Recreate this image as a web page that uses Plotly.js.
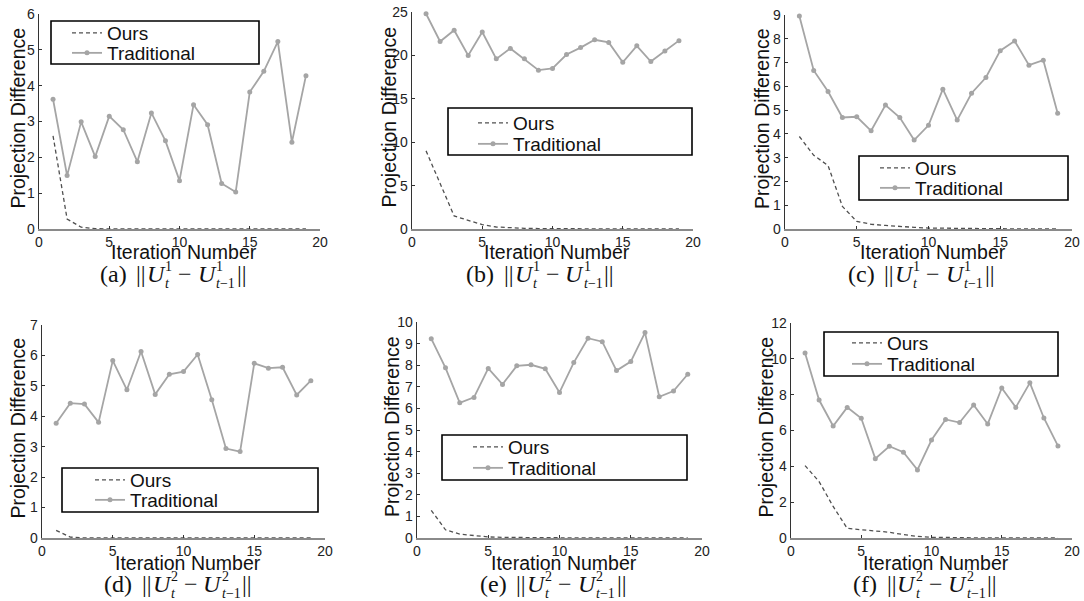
<!DOCTYPE html>
<html>
<head>
<meta charset="utf-8">
<script src="https://cdn.plot.ly/plotly-3.0.1.min.js"></script>
<style>html,body{margin:0;padding:0;background:#fff;}#chart{width:1084px;height:601px;}</style>
</head>
<body>
<div id="chart"></div>
<script>
// ---------------- data ----------------
const iterations = [1,2,3,4,5,6,7,8,9,10,11,12,13,14,15,16,17,18,19];
const seriesNames = ['Ours', 'Traditional'];
const panelLetters = ['a','b','c','d','e','f'];
const panelSup = ['1','1','1','2','2','2'];

const oursA = [2.6,0.28,0.05,0.01,0,0,0,0,0,0,0,0,0,0,0,0,0,0,0];
const tradA = [3.62,1.49,2.99,2.02,3.15,2.77,1.88,3.24,2.46,1.35,3.47,2.91,1.27,1.03,3.82,4.40,5.23,2.42,4.28];
const oursB = [9.0,5.2,1.5,1.0,0.5,0.23,0.12,0.08,0.05,0.03,0.02,0.01,0.01,0,0,0,0,0,0];
const tradB = [24.8,21.6,22.9,20.0,22.7,19.6,20.8,19.6,18.3,18.5,20.1,20.9,21.8,21.5,19.2,21.1,19.3,20.5,21.7];
const oursC = [3.89,3.1,2.67,0.95,0.32,0.2,0.15,0.1,0.07,0.04,0.03,0.02,0.01,0.01,0,0,0,0,0];
const tradC = [8.96,6.67,5.78,4.69,4.72,4.13,5.21,4.69,3.74,4.36,5.88,4.58,5.71,6.37,7.50,7.91,6.89,7.10,4.87];
const oursD = [0.25,0.03,0,0,0,0,0,0,0,0,0,0,0,0,0,0,0,0,0];
const tradD = [3.77,4.43,4.40,3.80,5.83,4.87,6.13,4.72,5.38,5.47,6.03,4.54,2.94,2.84,5.74,5.58,5.61,4.70,5.17];
const oursE = [1.28,0.38,0.18,0.1,0.05,0.03,0.02,0.01,0,0,0,0,0,0,0,0,0,0,0];
const tradE = [9.23,7.88,6.26,6.51,7.85,7.11,7.97,8.02,7.83,6.74,8.12,9.25,9.09,7.75,8.17,9.51,6.54,6.80,7.58];
const oursF = [4.04,3.15,1.76,0.54,0.46,0.41,0.32,0.19,0.09,0.04,0.02,0.01,0,0,0,0,0,0,0];
const tradF = [10.33,7.70,6.25,7.29,6.68,4.43,5.12,4.79,3.80,5.47,6.62,6.44,7.42,6.36,8.37,7.29,8.66,6.70,5.14];

const oursAll = [oursA, oursB, oursC, oursD, oursE, oursF];
const tradAll = [tradA, tradB, tradC, tradD, tradE, tradF];
const yMax = [6, 25, 9, 7, 10, 12];
const yDtick = [1, 5, 1, 1, 1, 2];
const xTicks = [0, 5, 10, 15, 20];

// ---------------- layout geometry (pixels) ----------------
const W = 1084, H = 601;
// plot area [left, right, top, bottom]
const plotBox = [
  [39, 320, 14, 229], [412, 693, 12, 229], [785, 1072, 15, 229],
  [42, 325, 325, 538], [417, 702, 322, 538], [791, 1072, 323, 538]
];
// legend frame [left, right, top, bottom], row centers, text start
const legBox = [
  [51, 259, 21, 64], [448, 692, 108, 155], [859, 1068, 156, 200],
  [62, 318, 468, 512], [442, 687, 435, 480], [824, 1058, 332, 376]
];
const legRows = [[33, 53], [123, 144], [168, 188], [480, 500], [447, 468], [343, 364]];
const legText = [107, 513, 915, 130, 508, 887];
const capCenter = [172, 539, 920, 177, 552, 924];
const capY = [274, 274, 274, 584, 584, 584];
const xTitleY = [252, 252, 252, 563, 563, 563];
const yTitleX = [17, 388, 762, 17, 392, 765];

const px = p => p / W;
const py = p => 1 - p / H;

const sansFont = 'Liberation Sans, Arial, sans-serif';
const serifFont = 'Liberation Serif';

const traces = [];
const layout = {
  width: W, height: H,
  margin: {l: 0, r: 0, t: 0, b: 0},
  paper_bgcolor: '#ffffff', plot_bgcolor: 'rgba(0,0,0,0)',
  showlegend: true,
  shapes: [], annotations: []
};

for (let i = 0; i < 6; i++) {
  const n = i + 1;
  const xa = n === 1 ? 'xaxis' : 'xaxis' + n;
  const ya = n === 1 ? 'yaxis' : 'yaxis' + n;
  const xr = n === 1 ? 'x' : 'x' + n;
  const yr = n === 1 ? 'y' : 'y' + n;
  const b = plotBox[i];
  layout[xa] = {
    domain: [px(b[0]), px(b[1])], anchor: yr, range: [0, 20],
    tickmode: 'array', tickvals: xTicks,
    ticks: 'inside', ticklen: 3, tickcolor: '#333', tickwidth: 1,
    showline: true, linecolor: '#8a8a8a', linewidth: 1.5,
    showgrid: false, zeroline: false, fixedrange: true,
    ticklabelstandoff: 0,
    tickfont: {family: sansFont, size: 14, color: '#222'}
  };
  layout[ya] = {
    domain: [py(b[3]), py(b[2])], anchor: xr, range: [0, yMax[i]],
    dtick: yDtick[i], tick0: 0,
    ticks: 'inside', ticklen: 3, tickcolor: '#333', tickwidth: 1,
    showline: true, linecolor: '#333', linewidth: 1.3,
    showgrid: false, zeroline: false, fixedrange: true,
    ticklabelstandoff: 0,
    tickfont: {family: sansFont, size: 14, color: '#222'}
  };
  const lgO = 'legend' + (2 * i + 1 === 1 ? '' : (2 * i + 1));
  const lgT = 'legend' + (2 * i + 2);
  traces.push({
    x: iterations, y: oursAll[i], xaxis: xr, yaxis: yr,
    type: 'scatter', mode: 'lines', name: seriesNames[0],
    line: {color: '#505050', width: 1.3, dash: '4px,3px'},
    cliponaxis: false, legend: lgO
  });
  traces.push({
    x: iterations, y: tradAll[i], xaxis: xr, yaxis: yr,
    type: 'scatter', mode: 'lines+markers', name: seriesNames[1],
    line: {color: '#a5a5a5', width: 1.8},
    marker: {color: '#a5a5a5', size: 5},
    cliponaxis: false, legend: lgT
  });
  const legCommon = {
    xanchor: 'left', yanchor: 'middle', bgcolor: 'rgba(0,0,0,0)', borderwidth: 0,
    font: {family: sansFont, size: 19, color: '#111'}, itemclick: false, itemdoubleclick: false
  };
  layout[lgO] = Object.assign({}, legCommon, {x: px(legText[i] - 40), y: py(legRows[i][0])});
  layout[lgT] = Object.assign({}, legCommon, {x: px(legText[i] - 40), y: py(legRows[i][1])});
  const lb = legBox[i];
  layout.shapes.push({
    type: 'rect', xref: 'paper', yref: 'paper', layer: 'above',
    x0: px(lb[0]), x1: px(lb[1]), y0: py(lb[3]), y1: py(lb[2]),
    line: {color: '#000', width: 1.6}, fillcolor: '#ffffff'
  });
  // axis titles
  layout.annotations.push({
    xref: 'paper', yref: 'paper', x: px((b[0] + b[1]) / 2 + 4), y: py(xTitleY[i]),
    xanchor: 'center', yanchor: 'middle', showarrow: false, borderpad: 0,
    text: 'Iteration Number', font: {family: sansFont, size: 19.5, color: '#111'}
  });
  layout.annotations.push({
    xref: 'paper', yref: 'paper', x: px(yTitleX[i]), y: py((b[2] + b[3]) / 2 - 3),
    xanchor: 'center', yanchor: 'middle', showarrow: false, textangle: -90, borderpad: 0,
    text: 'Projection Difference', font: {family: sansFont, size: 19.5, color: '#111'}
  });
}

// ---------------- captions "(a) ||U_t^1 - U_{t-1}^1||" ----------------
const ctx = document.createElement('canvas').getContext('2d');
function tw(t, size, italic) {
  ctx.font = (italic ? 'italic ' : '') + size + 'px "' + serifFont + '"';
  return ctx.measureText(t).width;
}
const capSize = 24, scrSize = 14;
function buildCaption(i) {
  const letter = panelLetters[i], sup = panelSup[i];
  const pieces = [];
  let x = 0;
  // anchor: 'middle' for main text, 'bottom' for superscripts, 'top' for subscripts
  function add(text, w, size, anchor) { pieces.push({text, x, size, anchor}); return w; }
  x += add('(' + letter + ')', tw('(' + letter + ')', capSize), capSize, 'middle');
  x += 10;
  x += add('||', tw('||', capSize), capSize, 'middle');
  x += 1;
  x += add('<i>U</i>', tw('U', capSize, true), capSize, 'middle');
  x += 1;
  const w1 = add(sup, tw(sup, scrSize), scrSize, 'bottom');
  const w2 = add('<i>t</i>', tw('t', scrSize, true), scrSize, 'top');
  x += Math.max(w1, w2) + 6;
  x += add('\u2212', tw('\u2212', capSize), capSize, 'middle');
  x += 6;
  x += add('<i>U</i>', tw('U', capSize, true), capSize, 'middle');
  x += 1;
  const w3 = add(sup, tw(sup, scrSize), scrSize, 'bottom');
  const w4 = add('<i>t</i>\u22121', tw('t', scrSize, true) + tw('\u22121', scrSize), scrSize, 'top');
  x += Math.max(w3, w4) + 2;
  x += add('||', tw('||', capSize), capSize, 'middle');
  const start = capCenter[i] - x / 2;
  pieces.forEach(p => {
    layout.annotations.push({
      xref: 'paper', yref: 'paper', x: px(start + p.x), y: py(capY[i] + (p.anchor === 'middle' ? 0 : 1)),
      xanchor: 'left', yanchor: p.anchor, showarrow: false, borderpad: 0,
      text: p.text, font: {family: serifFont, size: p.size, color: '#111'}
    });
  });
}
for (let i = 0; i < 6; i++) buildCaption(i);

Plotly.newPlot('chart', traces, layout, {staticPlot: true, displayModeBar: false});
</script>
</body>
</html>
